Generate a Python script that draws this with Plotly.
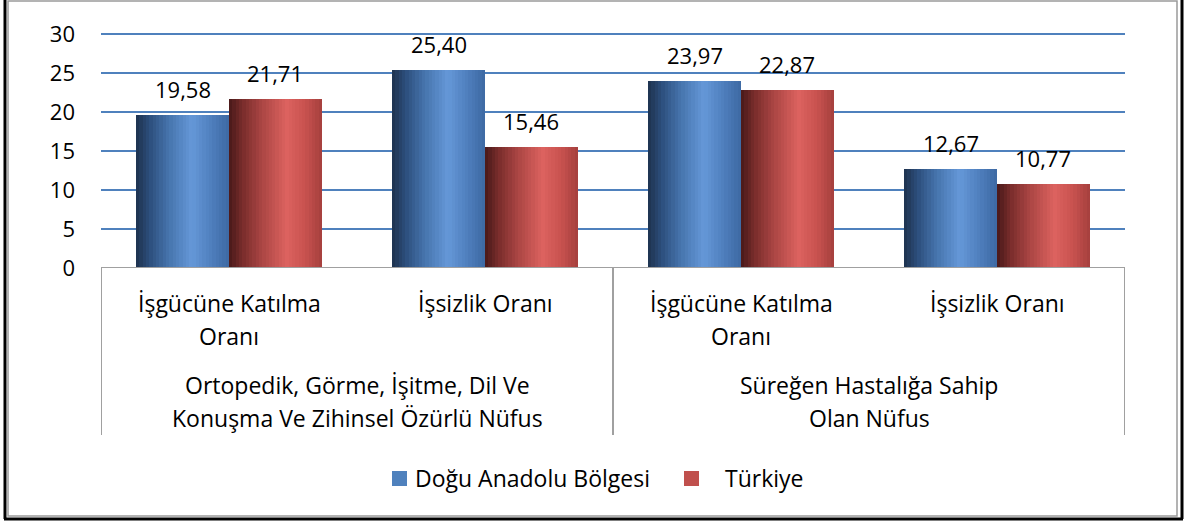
import plotly.graph_objects as go

# ---- data ----
categories = ["İşgücüne Katılma<br>Oranı", "İşsizlik Oranı",
              "İşgücüne Katılma<br>Oranı", "İşsizlik Oranı"]
groups = ["Ortopedik, Görme, İşitme, Dil Ve<br>Konuşma Ve Zihinsel Özürlü Nüfus",
          "Süreğen Hastalığa Sahip<br>Olan Nüfus"]
group_members = [[0, 1], [2, 3]]
dogu = [19.58, 25.40, 23.97, 12.67]
turkiye = [21.71, 15.46, 22.87, 10.77]
series_names = ["Doğu Anadolu Bölgesi", "Türkiye"]
y_ticks = [0, 5, 10, 15, 20, 25, 30]

# ---- style ----
FONT = "Open Sans"
FS = 23      # category / legend text
FSN = 22     # numbers
W, H = 1188, 522
L, R, T, B = 101, 63, 28, 254
PW, PH = W - L - R, H - T - B
Y_TOP = PH / 7.8   # 7.8 px per unit, keeps the 30 gridline inside the range
bar_w = 0.363
N_STRIPS = 28

blue_stops = [(0.0, "#1d314d"), (0.15, "#2d4f7d"), (0.35, "#4674ad"),
              (0.6, "#6598d8"), (0.8, "#5080bf"), (1.0, "#3d69a2")]
red_stops = [(0.0, "#481919"), (0.15, "#7a2d2c"), (0.35, "#aa4543"),
             (0.62, "#dc625f"), (0.82, "#c8524f"), (1.0, "#a53f3d")]


def hex2rgb(h):
    h = h.lstrip("#")
    return tuple(int(h[i:i + 2], 16) for i in (0, 2, 4))


def interp(stops, t):
    for (p0, c0), (p1, c1) in zip(stops[:-1], stops[1:]):
        if p0 <= t <= p1:
            f = (t - p0) / (p1 - p0) if p1 > p0 else 0
            a, b = hex2rgb(c0), hex2rgb(c1)
            return "rgb(%d,%d,%d)" % tuple(round(a[i] + (b[i] - a[i]) * f) for i in range(3))
    return stops[-1][1]


def px_x(px):
    return (px - L) / PW


def px_y(py):
    return (H - B - py) / PH


x_pos = list(range(len(categories)))
fig = go.Figure()

series = [(dogu, series_names[0], "#4f81bd", blue_stops, -bar_w),
          (turkiye, series_names[1], "#c0504d", red_stops, 0.0)]

for vals, name, base_col, stops, off in series:
    fig.add_trace(go.Bar(x=x_pos, y=vals, name=name, width=bar_w, offset=off,
                         marker=dict(color=base_col, line=dict(width=0)),
                         legendgroup=name, showlegend=False, hoverinfo="y"))
    sw = bar_w / N_STRIPS
    for k in range(N_STRIPS):
        t = (k + 0.5) / N_STRIPS
        fig.add_trace(go.Bar(x=x_pos, y=vals, width=sw * 1.08, offset=off + k * sw,
                             marker=dict(color=interp(stops, t), line=dict(width=0)),
                             legendgroup=name, showlegend=False, hoverinfo="skip"))

shapes = []
annotations = []

# value labels
for vals, name, base_col, stops, off in series:
    for i, v in enumerate(vals):
        annotations.append(dict(x=x_pos[i] + off + bar_w / 2, y=v, xref="x", yref="y",
                                text=f"{v:.2f}".replace(".", ","), showarrow=False,
                                yanchor="middle", yshift=26,
                                font=dict(family=FONT, size=FSN, color="#000000")))

# baseline
shapes.append(dict(type="line", xref="paper", yref="y", x0=0, x1=1, y0=0, y1=0,
                   line=dict(color="#a0a0a0", width=2), layer="above"))

# category separators
cat_bottom = px_y(435)
for xv in [-0.5, 1.5, 3.5]:
    shapes.append(dict(type="line", xref="x", yref="paper", x0=xv, x1=xv,
                       y0=0, y1=cat_bottom, line=dict(color="#a0a0a0", width=2)))

# category labels
LINE = 33
for i, lab in enumerate(categories):
    for j, line in enumerate(lab.split("<br>")):
        annotations.append(dict(x=x_pos[i], y=0, xref="x", yref="paper", text=line,
                                showarrow=False, yanchor="middle",
                                yshift=-(303 - (H - B)) - j * LINE,
                                font=dict(family=FONT, size=FS, color="#000000")))
for g, lab in enumerate(groups):
    cx = sum(x_pos[m] for m in group_members[g]) / len(group_members[g])
    for j, line in enumerate(lab.split("<br>")):
        annotations.append(dict(x=cx, y=0, xref="x", yref="paper", text=line,
                                showarrow=False, yanchor="middle",
                                yshift=-(385 - (H - B)) - j * LINE,
                                font=dict(family=FONT, size=FS, color="#000000")))

# legend (manual, to match spacing)
legend_items = [(series_names[0], "#4f81bd", 392, 413),
                (series_names[1], "#c0504d", 684, 723)]
for name, col, sq_x, tx_x in legend_items:
    shapes.append(dict(type="rect", xref="paper", yref="paper",
                       x0=px_x(sq_x), x1=px_x(sq_x + 15), y0=px_y(486), y1=px_y(471),
                       fillcolor=col, line=dict(width=0)))
    annotations.append(dict(x=px_x(tx_x), y=px_y(478), xref="paper", yref="paper",
                            text=name, showarrow=False, xanchor="left", yanchor="middle",
                            font=dict(family=FONT, size=FS, color="#000000")))

# chart borders
shapes.append(dict(type="rect", xref="paper", yref="paper",
                   x0=px_x(8), x1=px_x(1177), y0=px_y(516), y1=px_y(1),
                   line=dict(color="#9a9a9a", width=1.5), layer="below"))
for x0, y0, x1, y1 in [(5, 0, 5, 519), (1182, 0, 1182, 519), (4, 519, 1183, 519)]:
    shapes.append(dict(type="line", xref="paper", yref="paper",
                       x0=px_x(x0), x1=px_x(x1), y0=px_y(y0), y1=px_y(y1),
                       line=dict(color="#000000", width=3)))

fig.update_layout(
    width=W, height=H,
    margin=dict(l=L, r=R, t=T, b=B, pad=0),
    paper_bgcolor="white", plot_bgcolor="white",
    barmode="overlay", bargap=0, showlegend=False,
    font=dict(family=FONT, size=FS, color="#000000"),
    xaxis=dict(range=[-0.5, 3.5], showticklabels=False, showgrid=False,
               zeroline=False, showline=False, ticks="", fixedrange=True),
    yaxis=dict(range=[0, Y_TOP], tickvals=y_ticks, showgrid=True,
               gridcolor="#4f81bd", gridwidth=2, zeroline=False, showline=False,
               ticks="", ticklabelstandoff=25,
               tickfont=dict(family=FONT, size=FSN, color="#000000")),
    shapes=shapes, annotations=annotations,
)

fig.write_html("out.html", config={"displayModeBar": False},
               post_script="document.body.style.margin='0';document.body.style.padding='0';")
